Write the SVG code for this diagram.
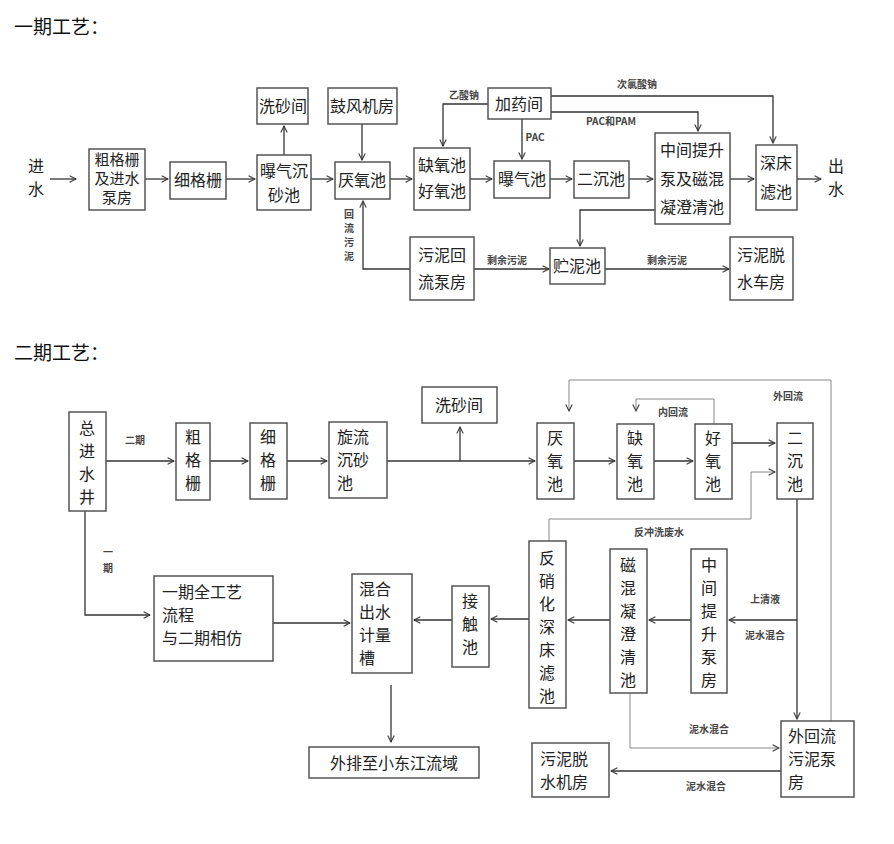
<svg xmlns="http://www.w3.org/2000/svg" width="894" height="844" viewBox="0 0 894 844">
<defs>
<marker id="a" viewBox="0 0 10 10" refX="9" refY="5" markerWidth="8" markerHeight="8" orient="auto" markerUnits="userSpaceOnUse"><path d="M1,1 L9,5 L1,9" fill="none" stroke="#333" stroke-width="1.3"/></marker>
<style>
.b{fill:#fff;stroke:#555;stroke-width:1.5}
.t{font-family:"Noto Sans CJK SC",sans-serif;font-size:16px;fill:#222;text-anchor:middle}
.tl{font-family:"Noto Sans CJK SC",sans-serif;font-size:16px;fill:#222}
.s{font-size:15px}
.l{font-family:"Noto Sans CJK SC",sans-serif;font-size:10px;font-weight:bold;fill:#444;text-anchor:middle}
.h{font-family:"Noto Sans CJK SC",sans-serif;font-size:19px;fill:#111}
.c path{fill:none;stroke:#333;stroke-width:1.3}
.c path.g{stroke:#888;stroke-width:1}
</style>
</defs>
<rect width="894" height="844" fill="#fff"/>
<text class="h" x="14" y="34">一期工艺：</text>
<text class="h" x="14" y="360">二期工艺：</text>
<g class="c">
<path d="M50,179 H76" marker-end="url(#a)"/>
<path d="M145,179 H168" marker-end="url(#a)"/>
<path d="M226,179 H255" marker-end="url(#a)"/>
<path d="M284,155 V126" marker-end="url(#a)"/>
<path d="M311,179 H333" marker-end="url(#a)"/>
<path d="M362,124 V160" marker-end="url(#a)"/>
<path d="M390,179 H412" marker-end="url(#a)"/>
<path d="M470,179 H492" marker-end="url(#a)"/>
<path d="M550,179 H572" marker-end="url(#a)"/>
<path d="M629,179 H653" marker-end="url(#a)"/>
<path d="M730,179 H754" marker-end="url(#a)"/>
<path d="M797,179 H821" marker-end="url(#a)"/>
<path d="M488,104 H443 V146" marker-end="url(#a)"/>
<path d="M522,119 V159" marker-end="url(#a)"/>
<path d="M551,112 H698 V131" marker-end="url(#a)"/>
<path d="M551,96 H773 V143" marker-end="url(#a)"/>
<path d="M655,210 H580 V246" marker-end="url(#a)"/>
<path d="M410,269 H363 V201" marker-end="url(#a)"/>
<path d="M474,269 H549" marker-end="url(#a)"/>
<path d="M605,269 H729" marker-end="url(#a)"/>
<path d="M106,461 H174" marker-end="url(#a)"/>
<path d="M210,461 H248" marker-end="url(#a)"/>
<path d="M287,461 H327" marker-end="url(#a)"/>
<path d="M387,461 H535" marker-end="url(#a)"/>
<path d="M460,461 V427" marker-end="url(#a)"/>
<path d="M574,461 H615" marker-end="url(#a)"/>
<path d="M654,461 H693" marker-end="url(#a)"/>
<path d="M732,443 H775" marker-end="url(#a)"/>
<path class="g" d="M831,721 V380 H569 V411" marker-end="url(#a)"/>
<path class="g" d="M714,424 V399 H636 V411" marker-end="url(#a)"/>
<path class="g" d="M549,541 V519 H751 V472 H775" marker-end="url(#a)"/>
<path d="M797,499 V719" marker-end="url(#a)"/>
<path d="M797,620 H729" marker-end="url(#a)"/>
<path d="M691,620 H649" marker-end="url(#a)"/>
<path d="M610,620 H568" marker-end="url(#a)"/>
<path d="M529,619 H491" marker-end="url(#a)"/>
<path d="M452,620 H414" marker-end="url(#a)"/>
<path d="M273,623 H350" marker-end="url(#a)"/>
<path d="M85,511 V615 H150" marker-end="url(#a)"/>
<path d="M391,685 V742" marker-end="url(#a)"/>
<path class="g" d="M630,693 V748 H779" marker-end="url(#a)"/>
<path d="M781,771 H611" marker-end="url(#a)"/>
</g>
<g class="lbl">
<text class="tl" x="28" y="172">进</text><text class="tl" x="28" y="195">水</text>
<text class="tl" x="828" y="172">出</text><text class="tl" x="828" y="195">水</text>
<text class="l" x="464" y="99">乙酸钠</text>
<text class="l" x="535" y="141">PAC</text>
<text class="l" x="611" y="125">PAC和PAM</text>
<text class="l" x="637" y="88">次氯酸钠</text>
<text class="l" x="507" y="264">剩余污泥</text>
<text class="l" x="667" y="264">剩余污泥</text>
<text class="l" x="349" y="218">回</text><text class="l" x="349" y="232">流</text><text class="l" x="349" y="246">污</text><text class="l" x="349" y="260">泥</text>
<text class="l" x="135" y="444">二期</text>
<text class="l" x="108" y="556">一</text><text class="l" x="108" y="572">期</text>
<text class="l" x="788" y="400">外回流</text>
<text class="l" x="673" y="416">内回流</text>
<text class="l" x="659" y="536">反冲洗废水</text>
<text class="l" x="765" y="603">上清液</text>
<text class="l" x="765" y="639">泥水混合</text>
<text class="l" x="709" y="733">泥水混合</text>
<text class="l" x="706" y="790">泥水混合</text>
</g>
<g id="n1"><rect class="b" x="89" y="149" width="56" height="61"/><text class="t s" x="117" y="165">粗格栅</text><text class="t s" x="117" y="184">及进水</text><text class="t s" x="117" y="203">泵房</text></g>
<g id="n2"><rect class="b" x="170" y="162" width="56" height="37"/><text class="t" x="198" y="186">细格栅</text></g>
<g id="n3"><rect class="b" x="257" y="155" width="54" height="55"/><text class="t" x="284" y="177">曝气沉</text><text class="t" x="284" y="201">砂池</text></g>
<g id="n4"><rect class="b" x="257" y="88" width="51" height="36"/><text class="t" x="283" y="112">洗砂间</text></g>
<g id="n5"><rect class="b" x="328" y="88" width="69" height="36"/><text class="t" x="362" y="112">鼓风机房</text></g>
<g id="n6"><rect class="b" x="335" y="162" width="55" height="37"/><text class="t" x="362" y="186">厌氧池</text></g>
<g id="n7"><rect class="b" x="414" y="148" width="56" height="62"/><text class="t" x="442" y="171">缺氧池</text><text class="t" x="442" y="197">好氧池</text></g>
<g id="n8"><rect class="b" x="488" y="88" width="63" height="31"/><text class="t" x="519" y="110">加药间</text></g>
<g id="n9"><rect class="b" x="494" y="161" width="56" height="37"/><text class="t" x="522" y="185">曝气池</text></g>
<g id="n10"><rect class="b" x="574" y="161" width="55" height="37"/><text class="t" x="601" y="185">二沉池</text></g>
<g id="n11"><rect class="b" x="655" y="133" width="75" height="91"/><text class="t" x="692" y="156">中间提升</text><text class="t" x="692" y="185">泵及磁混</text><text class="t" x="692" y="213">凝澄清池</text></g>
<g id="n12"><rect class="b" x="756" y="145" width="41" height="65"/><text class="t" x="776" y="169">深床</text><text class="t" x="776" y="198">滤池</text></g>
<g id="n13"><rect class="b" x="410" y="237" width="64" height="63"/><text class="t" x="442" y="261">污泥回</text><text class="t" x="442" y="288">流泵房</text></g>
<g id="n14"><rect class="b" x="550" y="248" width="55" height="36"/><text class="t" x="577" y="272">贮泥池</text></g>
<g id="n15"><rect class="b" x="730" y="237" width="63" height="63"/><text class="t" x="761" y="261">污泥脱</text><text class="t" x="761" y="288">水车房</text></g>
<g id="m1"><rect class="b" x="69" y="412" width="37" height="99"/><text class="t" x="87" y="434">总</text><text class="t" x="87" y="457">进</text><text class="t" x="87" y="480">水</text><text class="t" x="87" y="503">井</text></g>
<g id="m2"><rect class="b" x="176" y="423" width="34" height="77"/><text class="t" x="193" y="443">粗</text><text class="t" x="193" y="466">格</text><text class="t" x="193" y="489">栅</text></g>
<g id="m3"><rect class="b" x="250" y="423" width="37" height="76"/><text class="t" x="268" y="443">细</text><text class="t" x="268" y="466">格</text><text class="t" x="268" y="489">栅</text></g>
<g id="m4"><rect class="b" x="329" y="422" width="58" height="76"/><text class="tl" x="337" y="443">旋流</text><text class="tl" x="337" y="466">沉砂</text><text class="tl" x="337" y="489">池</text></g>
<g id="m5"><rect class="b" x="422" y="387" width="75" height="36"/><text class="t" x="459" y="411">洗砂间</text></g>
<g id="m6"><rect class="b" x="537" y="423" width="37" height="76"/><text class="t" x="555" y="444">厌</text><text class="t" x="555" y="467">氧</text><text class="t" x="555" y="490">池</text></g>
<g id="m7"><rect class="b" x="617" y="424" width="37" height="75"/><text class="t" x="635" y="444">缺</text><text class="t" x="635" y="467">氧</text><text class="t" x="635" y="490">池</text></g>
<g id="m8"><rect class="b" x="695" y="424" width="37" height="75"/><text class="t" x="713" y="444">好</text><text class="t" x="713" y="467">氧</text><text class="t" x="713" y="490">池</text></g>
<g id="m9"><rect class="b" x="777" y="423" width="36" height="76"/><text class="t" x="795" y="444">二</text><text class="t" x="795" y="467">沉</text><text class="t" x="795" y="490">池</text></g>
<g id="m10"><rect class="b" x="529" y="541" width="37" height="167"/><text class="t" x="547" y="564">反</text><text class="t" x="547" y="587">硝</text><text class="t" x="547" y="610">化</text><text class="t" x="547" y="633">深</text><text class="t" x="547" y="656">床</text><text class="t" x="547" y="679">滤</text><text class="t" x="547" y="702">池</text></g>
<g id="m11"><rect class="b" x="610" y="549" width="37" height="144"/><text class="t" x="628" y="571">磁</text><text class="t" x="628" y="594">混</text><text class="t" x="628" y="617">凝</text><text class="t" x="628" y="640">澄</text><text class="t" x="628" y="663">清</text><text class="t" x="628" y="686">池</text></g>
<g id="m12"><rect class="b" x="691" y="549" width="36" height="144"/><text class="t" x="709" y="571">中</text><text class="t" x="709" y="594">间</text><text class="t" x="709" y="617">提</text><text class="t" x="709" y="640">升</text><text class="t" x="709" y="663">泵</text><text class="t" x="709" y="686">房</text></g>
<g id="m13"><rect class="b" x="781" y="721" width="73" height="76"/><text class="tl" x="788" y="742">外回流</text><text class="tl" x="788" y="765">污泥泵</text><text class="tl" x="788" y="788">房</text></g>
<g id="m14"><rect class="b" x="532" y="743" width="77" height="54"/><text class="tl" x="540" y="765">污泥脱</text><text class="tl" x="540" y="788">水机房</text></g>
<g id="m15"><rect class="b" x="452" y="586" width="37" height="81"/><text class="t" x="470" y="607">接</text><text class="t" x="470" y="630">触</text><text class="t" x="470" y="653">池</text></g>
<g id="m16"><rect class="b" x="352" y="574" width="60" height="99"/><text class="tl" x="359" y="595">混合</text><text class="tl" x="359" y="618">出水</text><text class="tl" x="359" y="641">计量</text><text class="tl" x="359" y="664">槽</text></g>
<g id="m17"><rect class="b" x="154" y="576" width="119" height="85"/><text class="tl" x="162" y="598">一期全工艺</text><text class="tl" x="162" y="621">流程</text><text class="tl" x="162" y="644">与二期相仿</text></g>
<g id="m18"><rect class="b" x="309" y="747" width="170" height="31"/><text class="t" x="394" y="769">外排至小东江流域</text></g>
</svg>
